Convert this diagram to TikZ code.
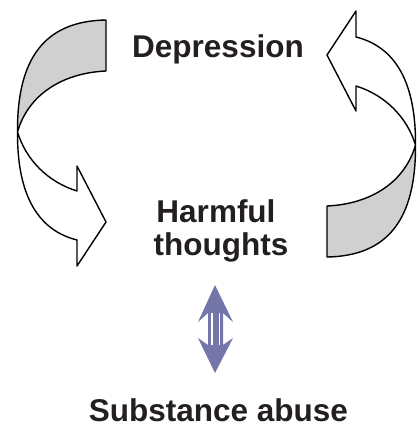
\documentclass[tikz,border=0pt]{standalone}
\usepackage{fontspec}
\setmainfont{Liberation Sans}
\definecolor{txtc}{HTML}{231F20}
\definecolor{backgray}{HTML}{D0D0D0}
\definecolor{slateb}{RGB}{116,118,170}
\begin{document}
\begin{tikzpicture}[x=1pt,y=-1pt,
  lbl/.style={anchor=base,inner sep=0pt,font=\fontsize{31.5}{34}\selectfont\bfseries,text=txtc},
  ribbon/.style={draw=black,line width=1.4pt,line join=round}]
\useasboundingbox (0,0) rectangle (420,426);
% left curved arrow and its rotated copy
\foreach \ang/\nm in {0/L,180/R}{
\begin{scope}[rotate around={\ang:(216.5,138.5)}]
  \coordinate (\nm A) at (106,20);
  \coordinate (\nm B) at (17.5,132);
  \coordinate (\nm C) at (77,240);
  \coordinate (\nm D) at (106,71);
  \coordinate (\nm E) at (77,191);
  \fill[white] (\nm B) .. controls (17,205) and (45,232) .. (\nm C) -- (77,266) -- (106,222) -- (77,166) -- (\nm E)
     .. controls (48,182) and (26,160) .. (\nm B) -- cycle;
  \draw[ribbon] (\nm B) .. controls (17,205) and (45,232) .. (\nm C) -- (77,266) -- (106,222) -- (77,166) -- (\nm E)
     .. controls (48,182) and (26,160) .. (\nm B);
  \draw[ribbon,fill=backgray] (\nm A) .. controls (45,21) and (17,58) .. (\nm B)
     .. controls (28,95) and (62,73) .. (\nm D) -- cycle;
\end{scope}}
% double arrow
\fill[slateb] (215,285) -- (233,322) -- (223,313) -- (223,345) -- (233,338) -- (215,373)
   -- (198,338) -- (208,345) -- (208,313) -- (198,322) -- cycle;
\draw[white,line width=1.4pt] (211.8,313) -- (211.8,345);
\draw[white,line width=1.4pt] (219.2,313) -- (219.2,345);
% labels
\node[lbl] (dep) at (218,57) {Depression};
\node[lbl] (harm) at (216,222) {Harmful};
\node[lbl] (thou) at (221,255) {thoughts};
\node[lbl] (sub) at (218.5,421) {Substance abuse};
\end{tikzpicture}
\end{document}
